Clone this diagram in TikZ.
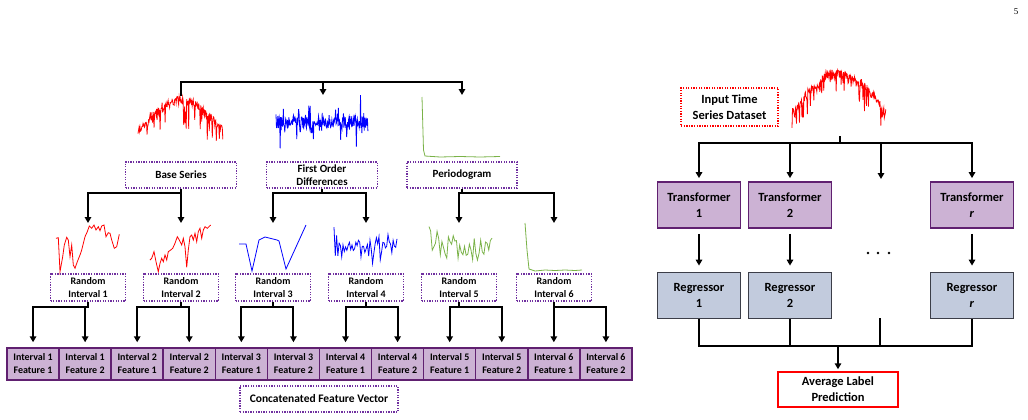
\documentclass[tikz,border=0pt]{standalone}
\usepackage{fontspec}
\setmainfont{Carlito}
\newfontfamily\pagefont{Liberation Serif}
\usepackage{tikz}
\usetikzlibrary{arrows.meta}
\definecolor{lblpurple}{RGB}{112,48,160}
\definecolor{cellfill}{RGB}{204,178,212}
\definecolor{celledge}{RGB}{96,32,112}
\definecolor{regfill}{RGB}{194,203,221}
\definecolor{regedge}{RGB}{60,62,72}
\definecolor{sgreen}{RGB}{122,178,72}

\begin{document}
\begin{tikzpicture}[x=1pt,y=-1pt,
        wire/.style={line width=2pt},
        feed/.style={line width=2pt,-{Triangle[length=6pt,width=6.5pt]}},
        lbl/.style={draw=lblpurple,line width=1.4pt,dash pattern=on 1.3pt off 1.3pt,align=center,inner sep=0pt},
        cellbox/.style={draw=celledge,fill=cellfill,line width=1.5pt,minimum width=52.08pt,minimum height=32pt,inner sep=0pt,align=center,font=\bfseries\fontsize{10}{13}\selectfont},
        tbox/.style={draw=celledge,fill=cellfill,line width=1.8pt,minimum width=83pt,minimum height=46pt,inner sep=0pt,align=center,font=\bfseries\fontsize{12.5}{16}\selectfont},
        rbox/.style={tbox,draw=regedge,fill=regfill},
        series/.style={line width=0.8pt}]
    \useasboundingbox (0,0) rectangle (1028,420);
    \node[font=\pagefont\fontsize{9}{10}\selectfont] (pageno) at (1016,12) {5};

                    \pgfmathsetseed{11}
                    \draw[series,red] plot[domain=0:1,samples=170] ({138+85*\x},{130-30*sin(180*\x)+4*rand+26*rnd^7});
                    \pgfmathsetseed{5}
                    \draw[series,blue] plot[domain=0:1,samples=200] ({276+92*\x},{122+6*rand+28*rand*rnd^5});
                    \draw[series,sgreen] plot coordinates {(422,97) (423.5,150) (425,156) (440,157) (460,156.5) (480,157) (500,156.5)};

                    \node[lbl,minimum width=111pt,minimum height=26pt,font=\bfseries\fontsize{11}{13}\selectfont] (bs) at (181,175) {Base Series};
                    \node[lbl,minimum width=111pt,minimum height=26pt,font=\bfseries\fontsize{11}{13}\selectfont] (fd) at (322,175) {First Order\\Differences};
                    \node[lbl,minimum width=110pt,minimum height=26pt,font=\bfseries\fontsize{11}{13}\selectfont] (pg) at (462,175) {Periodogram};

                    \coordinate (bstop) at (181,96);
                    \coordinate (fdtop) at (323,95);
                    \coordinate (pgtop) at (462,95);
                    \coordinate (bus) at (462,82);
                    \draw[feed] (bstop) |- (bus) -- (pgtop);
                    \draw[feed] (fdtop |- bus) -- (fdtop);

                    \draw[series,red] plot coordinates {(56,238.3) (58.3,237.7) (60,271.7) (62.7,256.7) (64.3,245) (66.7,237.3) (68.3,240) (70,256.7) (71.7,245) (73.3,265) (75,268.3) (77.3,261.7) (80,255) (81.7,250) (85,236.7) (87.3,231.7) (89.3,226) (91.7,228.3) (94,225) (96,230) (98.3,226.7) (100,230.7) (101.7,226) (104,225) (106,236.7) (108.3,232.7) (110,233.3) (111.7,240) (114.3,248.3) (116.7,246.7) (119.3,234.3)};
                    \draw[series,red] plot coordinates {(150,260) (151.7,258.3) (154,251.7) (156,261.7) (158.3,271.7) (160,263.3) (161.7,258.3) (163.3,261.7) (165,255) (166.7,260) (168.3,251.7) (170.7,250) (172.7,248.3) (175,243.3) (177.3,236.7) (179.3,240) (181.7,245) (183.3,238.3) (185,246.7) (186.7,267.3) (188.3,250) (190,236.7) (191.7,235) (193.3,240) (195,233.3) (196.7,241.7) (198.3,231.7) (200,228.3) (201.7,238.3) (203.3,230) (205,226.7) (207.3,228.3) (210.7,225)};
                    \draw[series,blue] plot coordinates {(239,244) (246,244) (252,271) (259,240) (265,237) (277,240) (279,241) (286,269) (306,225)};
                    \pgfmathsetseed{23}
                    \draw[series,blue] plot[domain=0:1,samples=50] ({334+63*\x},{246+9*rand+22*rand*rnd^3});
                    \pgfmathsetseed{31}
                    \draw[series,sgreen] plot[domain=0:1,samples=40] ({429+63*\x},{240+12*\x+15*rand});
                    \draw[series,sgreen] plot coordinates {(525,223) (527,250) (529,269) (535,271) (545,270) (555,270.5) (565,270) (575,270.5) (582,270)};

                    \foreach \k/\x in {1/88,2/181,3/273,4/366,5/459,6/554} {
                         \node[lbl,minimum width=75pt,minimum height=27pt,font=\bfseries\fontsize{10}{12.5}\selectfont] (ri\k) at (\x,287.5) {Random\\Interval \k};
                         \coordinate (top\k) at (\x,223);
                     }
                    \foreach \p/\a/\b in {bs/1/2,fd/3/4,pg/5/6} {
                         \draw[feed] (\p.south) -- ++(0,4) -| (top\a);
                         \draw[feed] (\p.south) -- ++(0,4) -| (top\b);
                     }

                    \foreach \k in {1,...,6}
                         \foreach \f in {1,2} {
                             \node[cellbox] (c\k\f) at ({33.04+52.08*(2*\k+\f-3)},364) {Interval \k\\Feature \f};
                             \draw[feed,shorten >=5pt] (ri\k.south) -- ++(0,5) -| (c\k\f.north);
                         }
                    \node[lbl,minimum width=158pt,minimum height=26pt,font=\bfseries\fontsize{11.5}{14}\selectfont] (cfv) at (319,399) {Concatenated Feature Vector};

                    \node[lbl,draw=red,minimum width=97pt,minimum height=38pt,font=\bfseries\fontsize{12.5}{16}\selectfont] (input) at (729.5,107) {Input Time\\Series Dataset};
                    \pgfmathsetseed{17}
                    \draw[series,red] plot[domain=0:1,samples=190] ({792+94*\x},{112-40*sin(180*\x)+4*rand+24*rnd^7});
                    \coordinate (inbot) at (840,136);

                    \node[tbox] (t1) at (699,205) {Transformer\\1};
                    \node[tbox] (t2) at (790,205) {Transformer\\2};
                    \node[tbox] (tr) at (972,205) {Transformer\\\textit{r}};
                    \coordinate (tdots) at (881,182);
                    \node[rbox] (r1) at (699,295.5) {Regressor\\1};
                    \node[rbox] (r2) at (790,295.5) {Regressor\\2};
                    \node[rbox] (rr) at (972,295.5) {Regressor\\\textit{r}};
                    \coordinate (rdots) at (880,318);
                    \foreach \x in {868,878,889}
                         \fill (\x,253) circle (1.4);

                    \foreach \t in {t1,t2,tdots,tr}
                         \draw[feed,shorten >=3pt] (inbot) -- ++(0,7) -| (\t);
                    \foreach \t/\r in {t1/r1,t2/r2,tr/rr}
                         \draw[feed,shorten <=5pt,shorten >=6pt] (\t) -- (\r);

                    \node[draw=red,line width=1.5pt,minimum width=120pt,minimum height=35pt,align=center,font=\bfseries\fontsize{12.5}{16}\selectfont] (alp) at (838,389.5) {Average Label\\Prediction};
                    \coordinate (jn) at (838,346);
                    \draw[wire] (r1.south) |- (jn) -| (rr.south);
                    \draw[wire] (r2.south) -- (r2.south |- jn);
                    \draw[wire] (rdots) -- (rdots |- jn);
                    \draw[feed,shorten >=2pt] (jn) -- (alp);
                 \end{tikzpicture}
\end{document}
